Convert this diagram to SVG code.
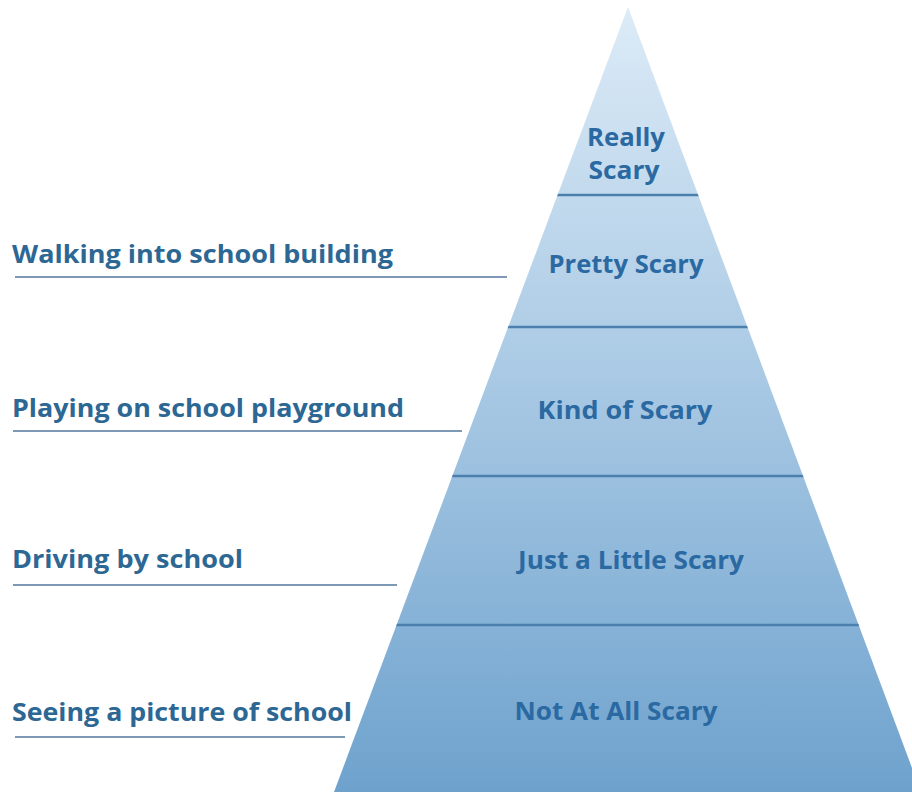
<svg xmlns="http://www.w3.org/2000/svg" width="912" height="792" viewBox="0 0 912 792">
<defs>
<linearGradient id="pg" x1="0" y1="0" x2="0" y2="1">
<stop offset="0" stop-color="#dcebf7"/>
<stop offset="0.5" stop-color="#a6c7e3"/>
<stop offset="1" stop-color="#6ea2cd"/>
</linearGradient>
<clipPath id="pc"><polygon points="628,7 334,792 921,792"/></clipPath>
</defs>
<style>
.lbl{font-family:"Open Sans","Liberation Sans",sans-serif;font-weight:700;font-size:25px;fill:#2d6794}
.tier{font-family:"Open Sans","Liberation Sans",sans-serif;font-weight:700;font-size:25px;fill:#2b69a2;text-anchor:middle}
.div{stroke:#4a7fae;stroke-width:2.5}
.ul{stroke:#7d99b4;stroke-width:2}
</style>
<rect width="912" height="792" fill="#ffffff"/>
<g id="pyramid">
<polygon points="628,7 334,792 921,792" fill="url(#pg)"/>
</g>
<g id="connectors" clip-path="url(#pc)">
<line class="div" x1="540" y1="195" x2="720" y2="195"/>
<line class="div" x1="490" y1="327" x2="770" y2="327"/>
<line class="div" x1="430" y1="476" x2="830" y2="476"/>
<line class="div" x1="380" y1="625" x2="880" y2="625"/>
</g>
<g id="tier-really-scary"><text class="tier" x="626" y="146" textLength="78" lengthAdjust="spacingAndGlyphs">Really</text><text class="tier" x="624" y="179" textLength="71" lengthAdjust="spacingAndGlyphs">Scary</text></g>
<g id="tier-pretty-scary"><text class="tier" x="626" y="273" textLength="155" lengthAdjust="spacingAndGlyphs">Pretty Scary</text></g>
<g id="tier-kind-of-scary"><text class="tier" x="625" y="419" textLength="175" lengthAdjust="spacingAndGlyphs">Kind of Scary</text></g>
<g id="tier-just-a-little-scary"><text class="tier" x="631" y="569" textLength="226" lengthAdjust="spacingAndGlyphs">Just a Little Scary</text></g>
<g id="tier-not-at-all-scary"><text class="tier" x="616" y="720" textLength="203" lengthAdjust="spacingAndGlyphs">Not At All Scary</text></g>
<g id="label-walking"><text class="lbl" x="12" y="263" textLength="381" lengthAdjust="spacingAndGlyphs">Walking into school building</text><line class="ul" x1="15" y1="277" x2="507" y2="277"/></g>
<g id="label-playing"><text class="lbl" x="12" y="417" textLength="392" lengthAdjust="spacingAndGlyphs">Playing on school playground</text><line class="ul" x1="13" y1="431" x2="462" y2="431"/></g>
<g id="label-driving"><text class="lbl" x="12" y="568" textLength="231" lengthAdjust="spacingAndGlyphs">Driving by school</text><line class="ul" x1="13" y1="585" x2="397" y2="585"/></g>
<g id="label-seeing"><text class="lbl" x="12" y="721" textLength="340" lengthAdjust="spacingAndGlyphs">Seeing a picture of school</text><line class="ul" x1="15" y1="737" x2="345" y2="737"/></g>
</svg>
